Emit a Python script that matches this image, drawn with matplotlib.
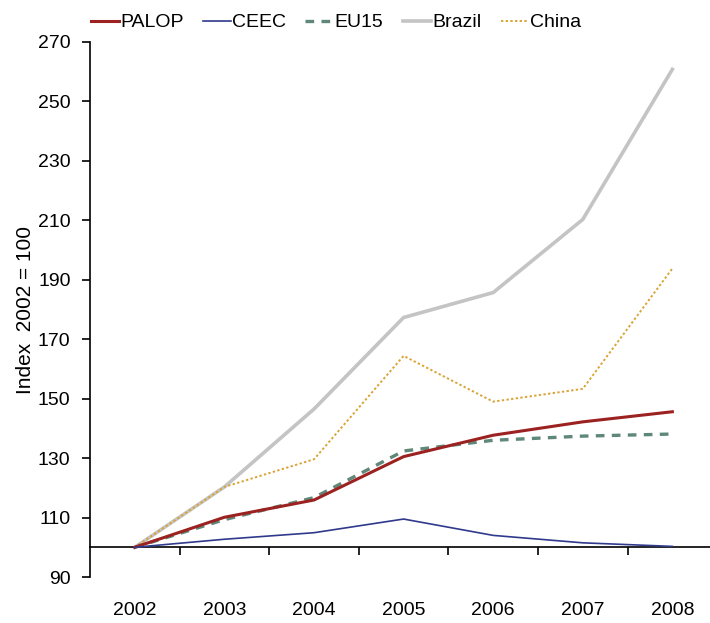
import matplotlib.pyplot as plt
from matplotlib import rc

rc('font', family='sans-serif')
plt.rcParams['font.sans-serif'] = ['Liberation Sans', 'DejaVu Sans']

years = ['2002', '2003', '2004', '2005', '2006', '2007', '2008']
palop = [100, 110.1, 115.9, 130.5, 137.7, 142.2, 145.6]
ceec = [100, 102.7, 104.9, 109.5, 104.0, 101.5, 100.3]
eu15 = [100, 109.3, 116.7, 132.4, 136.0, 137.4, 138.1]
brazil = [100, 120.3, 146.5, 177.3, 185.7, 210.3, 260.8]
china = [100, 120.3, 129.6, 164.4, 149.0, 153.3, 193.8]

fig = plt.figure(figsize=(7.1, 6.23), dpi=100, facecolor='w')
ax = fig.add_axes([90/710., 1-577/623., 620/710., (577-42)/623.])

x = range(len(years))
ax.plot(x, brazil, color='#c4c4c4', lw=2.6, label='Brazil', zorder=2)
ax.plot(x, china, color='#d9a436', lw=1.4, ls=(0, (1.2, 1.2)), label='China', zorder=3)
ax.plot(x, eu15, color='#5f8878', lw=2.4, ls=(0, (2.6, 2.2)), label='EU15', zorder=3)
ax.plot(x, palop, color='#9c2222', lw=2.2, label='PALOP', zorder=4)
ax.plot(x, ceec, color='#303a8c', lw=1.2, label='CEEC', zorder=4)

ax.set_xlim(-0.5, 6.42)
ax.set_ylim(90, 270)
ax.set_yticks(range(90, 271, 20))
ax.spines['top'].set_visible(False)
ax.spines['right'].set_visible(False)
ax.spines['bottom'].set_position(('data', 100))
ax.spines['left'].set_linewidth(1.2)
ax.spines['bottom'].set_linewidth(1.2)

# ticks between the years, labels under each year
ax.set_xticks([i + 0.5 for i in range(6)])
ax.set_xticklabels([])
ax.set_xticks(list(x), minor=True)
ax.set_xticklabels(years, minor=True)
ax.tick_params(axis='x', which='major', direction='out', length=6, width=1.2)
ax.tick_params(axis='x', which='minor', length=0, pad=39.5, labelsize=14)
ax.tick_params(axis='y', direction='out', length=6, width=1.2, labelsize=14, pad=8)

ax.set_ylabel('Index  2002 = 100', fontsize=15, labelpad=2)

h, l = ax.get_legend_handles_labels()
order = [3, 4, 2, 0, 1]
fig.legend([h[i] for i in order], [l[i] for i in order], loc='upper left',
           bbox_to_anchor=(81/710., 1 - 4/623.), ncol=5, frameon=False, fontsize=14,
           borderpad=0, handlelength=1.45, handletextpad=0.05, columnspacing=1.0)

fig.savefig('out.png', dpi=100)
